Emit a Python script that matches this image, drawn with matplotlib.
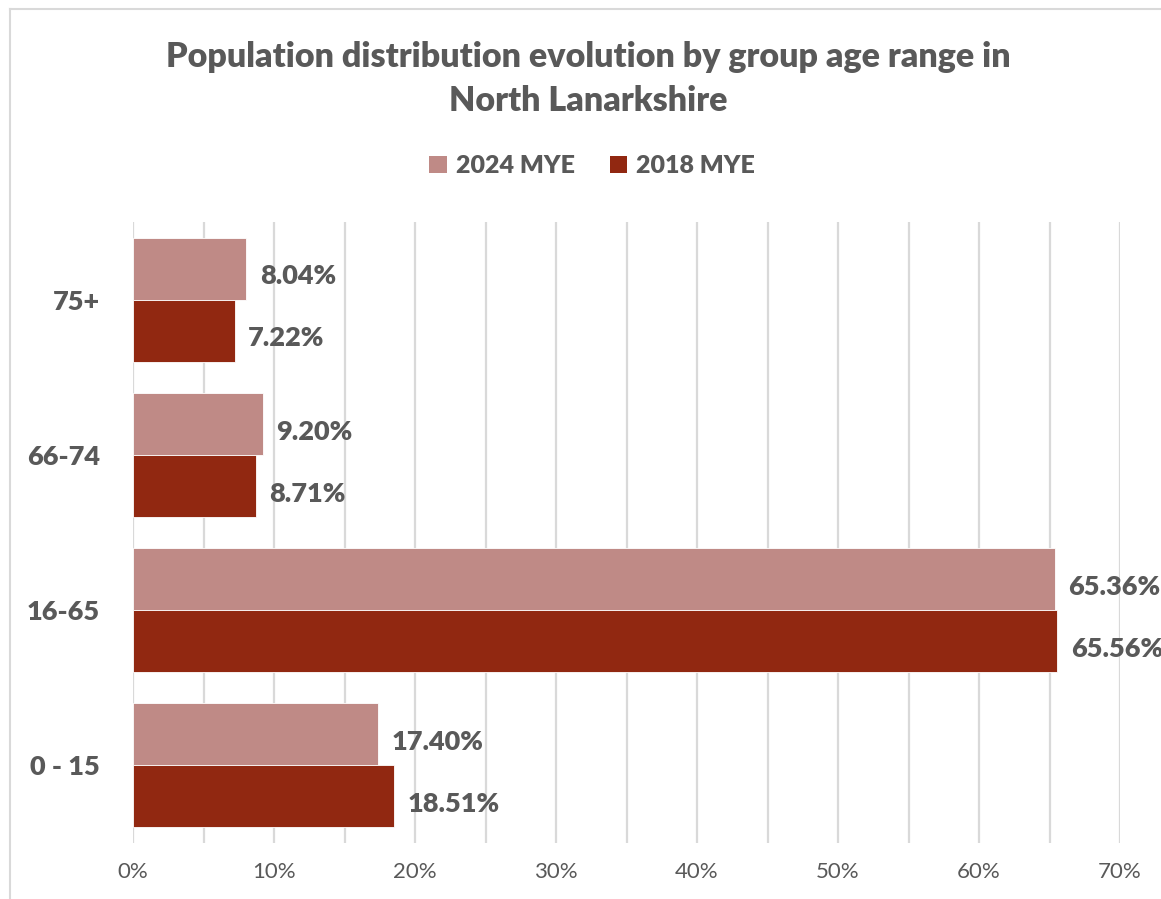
import matplotlib
matplotlib.use("Agg")
import matplotlib.pyplot as plt
from matplotlib.lines import Line2D
from matplotlib.patches import Patch
import numpy as np

categories = ["0 - 15", "16-65", "66-74", "75+"]
series_names = ["2024 MYE", "2018 MYE"]
values_2024 = [17.40, 65.36, 9.20, 8.04]
values_2018 = [18.51, 65.56, 8.71, 7.22]
xtick_labels = ["0%", "10%", "20%", "30%", "40%", "50%", "60%", "70%"]

c2024 = "#BF8A86"
c2018 = "#912811"
txt = "#595959"
W8 = "heavy"

plt.rcParams['font.family'] = ['Lato', 'DejaVu Sans']

W, H = 1161, 899
fig = plt.figure(figsize=(W / 100, H / 100), dpi=100)
ax = fig.add_axes([133 / W, 1 - 843 / H, (1120 - 133) / W, (843 - 222) / H])

y = np.arange(len(categories))
h = 0.4
ax.barh(y + h / 2, values_2024, height=h, color=c2024, edgecolor="white", linewidth=0.6, zorder=3)
ax.barh(y - h / 2, values_2018, height=h, color=c2018, edgecolor="white", linewidth=0.6, zorder=3)

for yi, v in zip(y, values_2024):
    ax.text(v + 0.95, yi + h / 2 - 0.05, f"{v:.2f}%", va="center", ha="left",
            fontsize=19.5, fontweight=W8, color=txt)
for yi, v in zip(y, values_2018):
    ax.text(v + 0.95, yi - h / 2 - 0.05, f"{v:.2f}%", va="center", ha="left",
            fontsize=19.5, fontweight=W8, color=txt)

ax.set_xlim(0, 70)
ax.set_ylim(-0.5, len(categories) - 0.5)
ax.set_xticks(np.arange(0, 71, 10))
ax.set_xticklabels(xtick_labels, fontsize=16, color=txt)
ax.set_xticks(np.arange(0, 71, 5), minor=True)
ax.set_yticks(y)
ax.set_yticklabels(categories, fontsize=19.5, fontweight=W8, color=txt)
ax.tick_params(axis="x", which="both", length=0, pad=14)
ax.tick_params(axis="y", length=0, pad=24)
ax.grid(axis="x", which="both", color="#D9D9D9", linewidth=1.6, zorder=0)
ax.grid(axis="y", visible=False)
for s in ax.spines.values():
    s.set_visible(False)

fig.text(588 / W, 1 - 57 / H, "Population distribution evolution by group age range in",
         ha="center", va="center", fontsize=24.5, fontweight=W8, color=txt)
fig.text(588 / W, 1 - 101 / H, "North Lanarkshire",
         ha="center", va="center", fontsize=24.5, fontweight=W8, color=txt)

handles = [Patch(facecolor=c2024), Patch(facecolor=c2018)]
leg = fig.legend(handles, series_names, loc="center", bbox_to_anchor=(592 / W, 1 - 166 / H),
                 ncol=2, frameon=False, prop={"size": 18, "weight": W8},
                 handlelength=0.7, handleheight=0.7, handletextpad=0.35, columnspacing=1.4)
for t in leg.get_texts():
    t.set_color(txt)

fig.add_artist(Line2D([10 / W, 1], [1 - 9 / H, 1 - 9 / H], color="#D9D9D9", linewidth=1.5))
fig.add_artist(Line2D([10 / W, 10 / W], [0, 1 - 9 / H], color="#D9D9D9", linewidth=1.5))

fig.savefig("out.png", dpi=100)
